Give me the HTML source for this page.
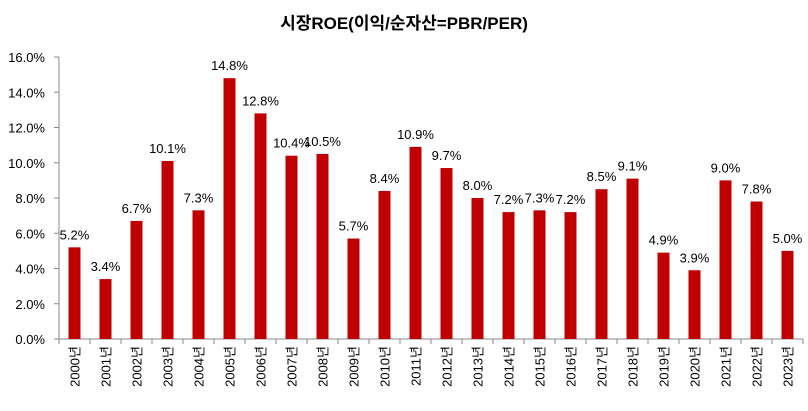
<!DOCTYPE html>
<html><head><meta charset="utf-8"><style>
body{margin:0;background:#fff;}
svg text{font-family:"Liberation Sans","Noto Sans CJK KR",sans-serif;fill:#000;}
</style></head><body>
<svg width="808" height="406" xmlns="http://www.w3.org/2000/svg">
<text x="404" y="29" text-anchor="middle" font-size="17" font-weight="bold">시장ROE(이익/순자산=PBR/PER)</text>
<g id="axes"></g><g id="bars"></g>
</svg>
<script>
const categories=["2000년","2001년","2002년","2003년","2004년","2005년","2006년","2007년","2008년","2009년","2010년","2011년","2012년","2013년","2014년","2015년","2016년","2017년","2018년","2019년","2020년","2021년","2022년","2023년"];
const values=[5.2,3.4,6.7,10.1,7.3,14.8,12.8,10.4,10.5,5.7,8.4,10.9,9.7,8.0,7.2,7.3,7.2,8.5,9.1,4.9,3.9,9.0,7.8,5.0];
const yTicks=[0,2,4,6,8,10,12,14,16];
const NS="http://www.w3.org/2000/svg";
const x0=59,step=31,y0=339,yTop=57,yMax=16;
const y=v=>y0-(v/yMax)*(y0-yTop);
const xc=i=>x0+step*i+step/2;
function mk(t,a,p){const e=document.createElementNS(NS,t);for(const k in a)e.setAttribute(k,a[k]);p.appendChild(e);return e;}
const ax=document.getElementById('axes'),bg=document.getElementById('bars');
const yl=mk('line',{x1:x0,y1:yTop,x2:x0,y2:y0,stroke:'#888'},ax);


const xl=mk('line',{x1:x0,y1:y0,x2:x0+step*categories.length,y2:y0,stroke:'#888'},ax);


yTicks.forEach(t=>{
  mk('line',{x1:x0-5,y1:y(t),x2:x0,y2:y(t),stroke:'#888'},ax);
  const tx=mk('text',{x:x0-14,y:y(t)+5,'text-anchor':'end','font-size':'13'},ax);
  tx.textContent=t.toFixed(1)+'%';
  
  
});
for(let i=0;i<=categories.length;i++)mk('line',{x1:x0+step*i,y1:y0,x2:x0+step*i,y2:y0+5,stroke:'#888'},ax);
categories.forEach((c,i)=>{
  const v=values[i];
  const r=mk('rect',{x:xc(i)-6,y:y(v),width:12,height:y0-y(v),fill:'#c00000'},bg);
  
  
  const l=mk('text',{x:xc(i),y:y(v)-8,'text-anchor':'middle','font-size':'13'},bg);
  l.textContent=v.toFixed(1)+'%';
  
  
  const xt=mk('text',{x:0,y:0,'text-anchor':'end','font-size':'13',transform:`translate(${xc(i)+5},346) rotate(-90)`},ax);
  xt.textContent=c;
  
  
});
</script>
</body></html>
